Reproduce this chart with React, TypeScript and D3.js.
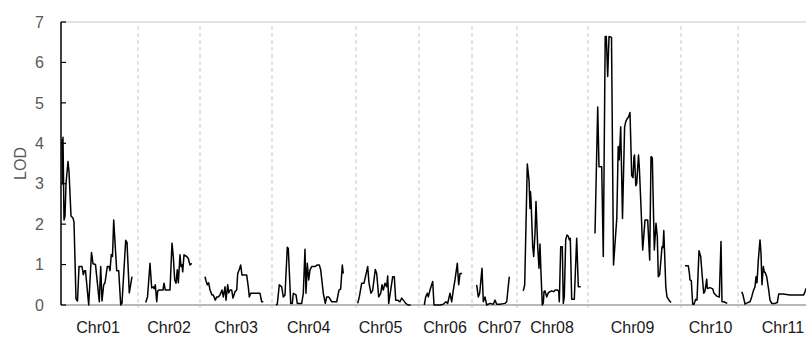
import React from "react";
import * as d3 from "d3";

const chromosomes = ["Chr01", "Chr02", "Chr03", "Chr04", "Chr05", "Chr06", "Chr07", "Chr08", "Chr09", "Chr10", "Chr11"];
const chromLengths = [77, 62, 72, 84, 63, 53, 45, 71, 93, 57, 90];
const labelPos = [37, 31, 36, 36.7, 24.5, 26, 27.5, 35, 44.5, 29.5, 45];
const yTicks = [0, 1, 2, 3, 4, 5, 6, 7];

const chr01 = [[1, 4.1], [1.5, 3.0], [2, 4.15], [3, 2.1], [4, 2.2], [5, 3.0], [7, 3.55], [8, 3.3], [10, 2.2], [12, 2.15], [13, 2.05], [15, 0.15], [16.5, 0.1], [18, 0.95], [21, 0.95], [22.3, 0.75], [23.5, 0.85], [24.5, 0.85], [27.7, 0], [30.5, 1.3], [32, 1.02], [34.5, 1.0], [38.3, 0.08], [39.7, 0.95], [41, 0.1], [42.7, 0.5], [44, 0.55], [46.3, 0.95], [48, 0.95], [49, 0.85], [50.3, 1.25], [51.5, 1.2], [52.7, 2.1], [55.7, 0.85], [57.7, 0.85], [59.7, 0], [61, 0.05], [64.7, 1.6], [66, 1.55], [68.3, 0.3], [71, 0.7]];
const chr02 = [[7.7, 0.06], [9.5, 0.2], [12, 1.03], [13.7, 0.42], [15.3, 0.45], [16.3, 0.4], [17.3, 0.5], [18.7, 0.08], [19.7, 0.35], [21.3, 0.37], [25, 0.37], [26, 0.54], [27.3, 0.37], [32, 0.37], [34, 1.53], [35.3, 1.2], [36.7, 0.62], [38, 0.54], [39.3, 0.87], [40.3, 0.55], [42, 1.24], [43, 0.95], [44, 1.0], [44.7, 0.82], [46, 1.24], [48.7, 1.2], [50.3, 1.15], [52, 0.99], [53.7, 1.03]];
const chr03 = [[5, 0.7], [6, 0.6], [7.3, 0.5], [8.7, 0.55], [10, 0.37], [12, 0.25], [13.3, 0.25], [15.3, 0.12], [16.7, 0.2], [18.3, 0.2], [20, 0.25], [22, 0.37], [23.3, 0.2], [25, 0.45], [26, 0.12], [27.7, 0.5], [28.7, 0.3], [30, 0.37], [31.7, 0.37], [33, 0.17], [35, 0.33], [36.7, 0.37], [37.7, 0.78], [39.3, 0.88], [40.7, 0.99], [42, 0.74], [46.7, 0.74], [48.3, 0.45], [49.3, 0.2], [50.7, 0.29], [60, 0.29], [61.7, 0.08], [63.3, 0.08]];
const chr04 = [[4, 0], [5.3, 0.02], [7.3, 0.5], [9.7, 0.45], [11.3, 0.2], [13, 0.25], [15.3, 1.43], [16.3, 1.4], [18.7, 0.04], [20.3, 0.04], [21.3, 0.29], [24, 0.25], [25.3, 0.04], [29.7, 0.04], [31.3, 0.29], [33, 1.38], [34, 0.29], [35.3, 1.03], [36.7, 0.62], [38, 0.87], [39.7, 0.95], [43, 0.95], [45.3, 0.99], [47.3, 0.99], [48.7, 0.87], [51.3, 0.29], [53.3, 0.04], [54.7, 0.2], [56.7, 0.2], [59.7, 0.08], [64.7, 0.08], [67, 0.37], [68.7, 0.4], [70.3, 0.99], [71.3, 0.78]];
const chr05 = [[1.7, 0.04], [3.3, 0.2], [5.7, 0.54], [8, 0.54], [11.7, 0.95], [13, 0.54], [15, 0.29], [16.7, 0.37], [19.3, 0.88], [20.7, 0.78], [22.7, 0.2], [24.7, 0.29], [26, 0.5], [27.3, 0.37], [29, 0.54], [30.7, 0.45], [31.7, 0.72], [32.7, 0.04], [34.7, 0.37], [36.7, 0.7], [38.3, 0.7], [39.7, 0.12], [41.7, 0.12], [44, 0.08], [45.7, 0.17], [47.3, 0.12], [49.7, 0.04], [52, 0], [54.7, 0]];
const chr06 = [[5.3, 0], [6.7, 0.2], [8.3, 0.29], [9.3, 0.2], [11, 0.37], [13.7, 0.58], [15, 0], [21, 0], [24.3, 0.02], [27, 0.08], [28.7, 0.04], [31, 0.29], [32.7, 0.08], [34.3, 0.37], [36, 0.62], [38.3, 1.03], [39.7, 0.5], [41, 0.78], [43, 0.78]];
const chr07 = [[4.7, 0.5], [6.3, 0.2], [7.7, 0.29], [10, 0.91], [11.3, 0.08], [13, 0.2], [14.7, 0], [18, 0.04], [21.3, 0.02], [23, 0.12], [24.7, 0.02], [28, 0.02], [33, 0.04], [34.7, 0.08], [37.3, 0.7]];
const chr08 = [[6.3, 0.35], [7.7, 0.5], [10.3, 3.49], [11.5, 3.2], [12, 3.09], [13, 2.39], [13.5, 2.8], [14, 2.6], [15.7, 1.44], [16.7, 1.2], [18, 1.77], [19, 2.56], [20.7, 1.44], [22, 0.91], [23, 1.51], [24, 0.78], [25.3, 0], [26.3, 0.05], [27, 0.33], [28, 0.35], [29.7, 0.2], [31.3, 0.3], [33, 0.33], [34.7, 0.35], [36.7, 0.33], [38.3, 0.37], [40, 0.37], [41.7, 0.35], [42.3, 0.08], [43.7, 1.44], [45.3, 1.44], [46.3, 0.04], [47.3, 0.2], [48.7, 1.61], [50, 1.73], [51.3, 1.7], [52.3, 1.61], [53.3, 1.65], [54.7, 0.14], [57.3, 0.14], [59.7, 1.65], [61.3, 0.45], [63.7, 0.45]];
const chr09 = [[7, 1.77], [9.7, 4.9], [11, 3.42], [13.7, 3.42], [15.3, 1.2], [17.2, 6.64], [18.3, 6.64], [19.7, 5.65], [21, 6.64], [23.5, 6.62], [25.5, 0.99], [28.8, 2.15], [30.2, 3.92], [31.2, 3.59], [32.7, 4.41], [34.5, 2.14], [36.6, 4.4], [37.7, 4.53], [39, 4.6], [40.5, 4.65], [42, 4.76], [43.7, 3.2], [45, 3.15], [46, 3.67], [46.5, 3.71], [47.8, 2.95], [48.7, 3.0], [50.5, 3.71], [51.3, 3.42], [53, 2.43], [54.7, 1.36], [57, 2.1], [59.7, 2.1], [61.7, 1.11], [63, 3.67], [64.3, 3.64], [66.3, 1.36], [68, 2.02], [69.3, 1.69], [70.3, 0.7], [71.7, 0.75], [74, 1.44], [75, 1.42], [75.8, 1.84], [77.8, 0.45], [79, 0.2], [81, 0.12], [83, 0.06]];
const chr10 = [[4, 0.97], [7.3, 0.97], [8.3, 0.8], [9, 0.62], [10.3, 0.6], [11.7, 0.02], [13, 0.02], [14.7, 0.14], [16, 0.12], [18, 1.34], [19.7, 1.2], [21.3, 0.7], [22.7, 0.29], [24, 0.35], [25.7, 0.64], [26.3, 0.41], [29, 0.43], [31.7, 0.4], [33, 0.29], [35.7, 0.22], [38.3, 0.2], [40, 1.57], [41, 0.08], [43, 0.08], [45, 0.05], [46.3, 0.05]];
const chr11 = [[3.7, 0.33], [5, 0.25], [7, 0.02], [8, 0.04], [12, 0.08], [13.7, 0.2], [15.3, 0.35], [17, 0.45], [18, 0.7], [19, 0.55], [20.3, 1.1], [22, 1.61], [23, 1.28], [24, 0.5], [25.3, 0.95], [26.3, 0.82], [27.3, 0.8], [28.7, 0.7], [30.7, 0.37], [32, 0.12], [33.7, 0.04], [37, 0.04], [39.3, 0.06], [40.7, 0.27], [45, 0.27], [52, 0.25], [60, 0.25], [64, 0.25], [65.7, 0.25], [67, 0.33], [68, 0.4], [70, 0.3], [74, 0.3]];

const lodSeries = [chr01, chr02, chr03, chr04, chr05, chr06, chr07, chr08, chr09, chr10, chr11];

export default function App() {
  const width = 806;
  const height = 338;
  const left = 61;
  const offsets: number[] = [];
  let acc = 0;
  chromLengths.forEach((l) => {
    offsets.push(acc);
    acc += l;
  });
  const total = acc;
  const x = d3.scaleLinear().domain([0, total]).range([left, left + total]);
  const y = d3.scaleLinear().domain([0, 7]).range([305, 22]);
  const font = "'Liberation Sans', Arial, sans-serif";

  return (
    <svg width={width} height={height} style={{ position: "absolute", left: 0, top: 0, background: "#fff" }}>
      {/* top gridline */}
      <line x1={x(0)} x2={width} y1={y(7)} y2={y(7)} stroke="#d9d9d9" strokeWidth={1.5} />
      {/* chromosome separators */}
      {offsets.slice(1).map((o, i) => (
        <line key={"sep" + i} x1={x(o)} x2={x(o)} y1={y(7) + 4} y2={y(0) + 3} stroke="#c8c8c8" strokeWidth={1} strokeDasharray="4,3" />
      ))}
      {/* bottom axis */}
      <line x1={x(0)} x2={width} y1={y(0)} y2={y(0)} stroke="#a0a0a0" strokeWidth={1.5} />
      {/* LOD curves */}
      {lodSeries.map((s, i) => {
        const line = d3
          .line<number[]>()
          .x((d) => x(offsets[i] + d[0]))
          .y((d) => y(d[1]));
        return <path key={"l" + i} d={line(s) || ""} fill="none" stroke="#000" strokeWidth={1.5} strokeLinejoin="round" />;
      })}
      {/* left axis */}
      <line x1={x(0)} x2={x(0)} y1={y(7)} y2={y(0)} stroke="#000" strokeWidth={1.5} />
      {yTicks.map((t) => (
        <g key={"t" + t}>
          <line x1={x(0)} x2={x(0) + 5} y1={y(t)} y2={y(t)} stroke="#000" strokeWidth={1.2} />
          <text x={44} y={y(t)} dy="0.36em" textAnchor="end" fontFamily={font} fontSize={16} fill="#595959">
            {t}
          </text>
        </g>
      ))}
      <text transform={`translate(26,${(y(0) + y(7)) / 2}) rotate(-90)`} textAnchor="middle" fontFamily={font} fontSize={16} fill="#595959">
        LOD
      </text>
      {chromosomes.map((c, i) => (
        <text key={c} x={x(offsets[i] + labelPos[i])} y={333} textAnchor="middle" fontFamily={font} fontSize={16} fill="#1a1a1a">
          {c}
        </text>
      ))}
    </svg>
  );
}
